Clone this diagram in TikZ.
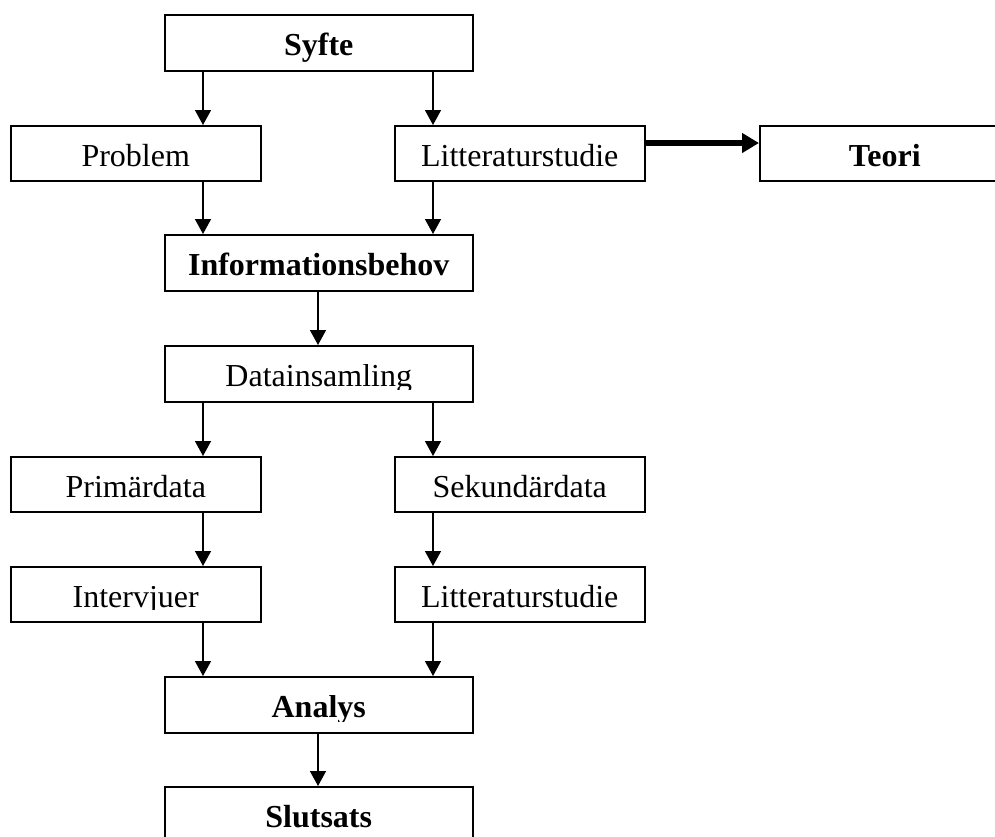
\documentclass[tikz,border=0pt]{standalone}
\usepackage{fontspec}
\setmainfont{Liberation Serif}
\usepackage{trimclip}
\usetikzlibrary{arrows.meta}
\begin{document}
\begin{tikzpicture}[x=1pt,y=-1pt,
 box/.style={draw,line width=1.5pt,inner sep=0pt,anchor=north west,font=\fontsize{32}{38}\selectfont,text height=28pt,text depth=2pt},
 bigbox/.style={box,minimum width=308pt,minimum height=56pt},
 smallbox/.style={box,minimum width=250pt,minimum height=55pt},
 arr/.style={line width=1.5pt,-{Triangle[width=16pt,length=15pt]}},
 thickarr/.style={line width=5.5pt,-{Triangle[width=19pt,length=17pt]}}]
\useasboundingbox (0,0) rectangle (995,836);
\clip (0,0) rectangle (995,836);
\coordinate (L) at (203,0);
\coordinate (R) at (433,0);
\coordinate (M) at (318,0);
\coordinate (T) at (0,143);

\node[bigbox] (syfte) at (164,14) {\textbf{Syfte}};
\node[smallbox] (problem) at (10,125) {Problem};
\node[smallbox] (litt1) at (394,125) {Litteraturstudie};
\node[smallbox] (teori) at (759,125) {\textbf{Teori}};
\node[bigbox] (info) at (164,234) {\textbf{Informationsbehov}};
\node[bigbox] (data) at (164,345) {\clipbox{0pt 4pt 0pt 0pt}{Datainsamling}};
\node[smallbox] (prim) at (10,456) {Primärdata};
\node[smallbox] (sek) at (394,456) {Sekundärdata};
\node[smallbox] (interv) at (10,566) {\clipbox{0pt 4.5pt 0pt 0pt}{Intervjuer}};
\node[smallbox] (litt2) at (394,566) {Litteraturstudie};
\node[bigbox] (analys) at (164,676) {\clipbox{0pt 3.5pt 0pt 0pt}{\textbf{Analys}}};
\node[bigbox] (slutsats) at (164,786) {\textbf{Slutsats}};

\draw[arr] (syfte.south -| L) -- (problem.north -| L);
\draw[arr] (syfte.south -| R) -- (litt1.north -| R);
\draw[thickarr] (litt1.east |- T) -- (teori.west |- T);
\draw[arr] (problem.south -| L) -- (info.north -| L);
\draw[arr] (litt1.south -| R) -- (info.north -| R);
\draw[arr] (info.south -| M) -- (data.north -| M);
\draw[arr] (data.south -| L) -- (prim.north -| L);
\draw[arr] (data.south -| R) -- (sek.north -| R);
\draw[arr] (prim.south -| L) -- (interv.north -| L);
\draw[arr] (sek.south -| R) -- (litt2.north -| R);
\draw[arr] (interv.south -| L) -- (analys.north -| L);
\draw[arr] (litt2.south -| R) -- (analys.north -| R);
\draw[arr] (analys.south -| M) -- (slutsats.north -| M);
\end{tikzpicture}
\end{document}
